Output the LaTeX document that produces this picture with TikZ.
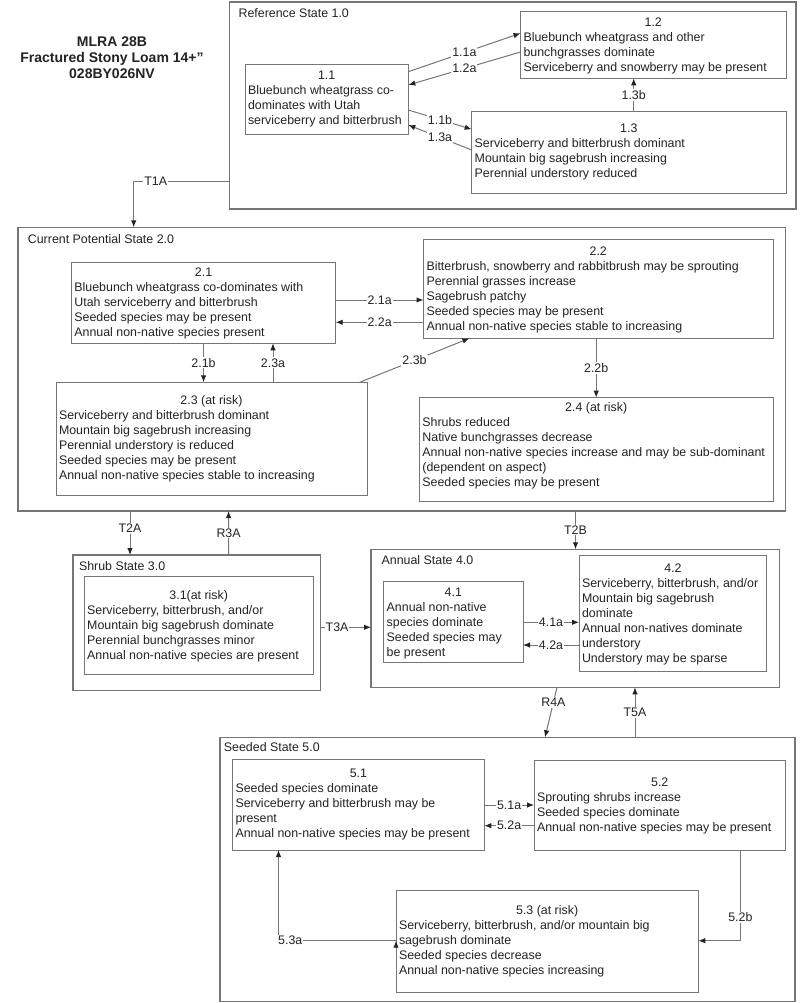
\documentclass[tikz,border=0pt]{standalone}
\usepackage{fontspec}
\setmainfont{Liberation Sans}
\usetikzlibrary{arrows.meta}

\definecolor{edgegray}{RGB}{118,118,118}
\definecolor{inkgray}{RGB}{35,35,35}

% text of a state box: width, height, x offset, y offset, title
\newcommand{\sttext}[5]{\parbox[t][#2pt][t]{#1pt}{\vspace*{#4pt}\hspace*{#3pt}\strut #5}}
% text of a phase box: width, height, y offset, number, lines
\newcommand{\phtext}[5]{\parbox[t][#2pt][t]{#1pt}{\vspace*{#3pt}{\centering\strut #4\par}\raggedright #5\par}}

\begin{document}
\begin{tikzpicture}[x=1pt, y=-1pt,
    font=\fontsize{12.4}{15}\selectfont, text=inkgray,
    statebox/.style={draw=edgegray, line width=1.3pt, inner sep=0pt, outer sep=0pt, anchor=north west},
    phasebox/.style={draw=edgegray, line width=1pt, inner xsep=3pt, inner ysep=0pt, outer sep=0pt, anchor=north west},
    conn/.style={draw=edgegray, line width=1pt, -{Latex[length=7pt, width=5.5pt, color=inkgray]}},
    lbl/.style={fill=white, inner sep=1pt},
    elbow/.style={to path={-| (\tikztotarget) \tikztonodes}},
    elbowv/.style={to path={|- (\tikztotarget) \tikztonodes}}]

    \fill[white] (0,0) rectangle (800,1003);
    \useasboundingbox (0,0) rectangle (800,1003);

    \node[font=\fontsize{14}{16}\selectfont\bfseries, align=center] (mlra) at (112,57.5) {MLRA 28B\\Fractured Stony Loam 14+\char34\\028BY026NV};

    % states
    \node[statebox] (s1) at (229.6,2) {\sttext{566.4}{207}{9}{5.3}{Reference State 1.0}};
    \node[statebox] (s2) at (17.9,227.3) {\sttext{767.8}{283.7}{10}{5.7}{Current Potential State 2.0}};
    \node[statebox] (s3) at (73,555) {\sttext{247.4}{135.7}{6}{5}{Shrub State 3.0}};
    \node[statebox] (s4) at (371,549.3) {\sttext{408.6}{138}{10.6}{4.7}{Annual State 4.0}};
    \node[statebox] (s5) at (219.9,737.3) {\sttext{575.1}{264.4}{4}{4}{Seeded State 5.0}};

    % phases
    \node[phasebox] (p11) at (245,64.3) {\phtext{157.3}{70.7}{4.7}{1.1}{Bluebunch wheatgrass co-\\dominates with Utah\\serviceberry and bitterbrush}};
    \node[phasebox] (p12) at (520.5,11.7) {\phtext{259.5}{66.6}{4}{1.2}{Bluebunch wheatgrass and other\\bunchgrasses dominate\\Serviceberry and snowberry may be present}};
    \node[phasebox] (p13) at (471.7,111.7) {\phtext{308.3}{81.6}{10.6}{1.3}{Serviceberry and bitterbrush dominant\\Mountain big sagebrush increasing\\Perennial understory reduced}};

    \node[phasebox] (p21) at (71.4,262.7) {\phtext{258.3}{80.6}{3}{2.1}{Bluebunch wheatgrass co-dominates with\\Utah serviceberry and bitterbrush\\Seeded species may be present\\Annual non-native species present}};
    \node[phasebox] (p22) at (423.5,239.3) {\phtext{343.5}{99}{5.4}{2.2}{Bitterbrush, snowberry and rabbitbrush may be sprouting\\Perennial grasses increase\\Sagebrush patchy\\Seeded species may be present\\Annual non-native species stable to increasing}};
    \node[phasebox] (p23) at (56,382.3) {\phtext{305}{113.4}{11.7}{2.3 (at risk)}{Serviceberry and bitterbrush dominant\\Mountain big sagebrush increasing\\Perennial understory is reduced\\Seeded species may be present\\Annual non-native species stable to increasing}};
    \node[phasebox] (p24) at (419.4,397.7) {\phtext{347.6}{104}{3.6}{2.4 (at risk)}{Shrubs reduced\\Native bunchgrasses decrease\\Annual non-native species increase and may be sub-dominant\\(dependent on aspect)\\Seeded species may be present}};

    \node[phasebox] (p31) at (84.2,576.7) {\phtext{223.1}{97.6}{12.3}{3.1(at risk)}{Serviceberry, bitterbrush, and/or\\Mountain big sagebrush dominate\\Perennial bunchgrasses minor\\Annual non-native species are present}};

    \node[phasebox] (p41) at (383.7,581.7) {\phtext{133.3}{80.6}{4}{4.1}{Annual non-native\\species dominate\\Seeded species may\\be present}};
    \node[phasebox] (p42) at (579,555) {\phtext{181.8}{116.7}{7.3}{4.2}{Serviceberry, bitterbrush, and/or\\Mountain big sagebrush\\dominate\\Annual non-natives dominate\\understory\\Understory may be sparse}};

    \node[phasebox] (p51) at (232.5,759.3) {\phtext{245.8}{90.7}{8}{5.1}{Seeded species dominate\\Serviceberry and bitterbrush may be\\present\\Annual non-native species may be present}};
    \node[phasebox] (p52) at (534,760) {\phtext{245.5}{90}{15.7}{5.2}{Sprouting shrubs increase\\Seeded species dominate\\Annual non-native species may be present}};
    \node[phasebox] (p53) at (396,890) {\phtext{296.3}{102.3}{14}{5.3 (at risk)}{Serviceberry, bitterbrush, and/or mountain big\\sagebrush dominate\\Seeded species decrease\\Annual non-native species increasing}};

    % pathways
    \draw[conn]
    ([yshift=-7.4pt]p11.north east) edge node[lbl]{1.1a} ([yshift=-21.6pt]p12.north west)
    ([yshift=-40.3pt]p12.north west) edge node[lbl]{1.2a} ([yshift=-20.7pt]p11.north east)
    ([yshift=-45.7pt]p11.north east) edge node[lbl]{1.1b} ([yshift=-17.6pt]p13.north west)
    ([yshift=-38.3pt]p13.north west) edge node[lbl]{1.3a} ([yshift=-60.7pt]p11.north east)
    ([xshift=162pt]p13.north west) edge node[lbl]{1.3b} ([xshift=113.2pt]p12.south west)
    ([yshift=27.3pt]s1.south west) edge[elbow] node[lbl, pos=0.385]{T1A} ([xshift=115.8pt]s2.north west)
    ([yshift=-37.3pt]p21.north east) edge node[lbl]{2.1a} ([yshift=-60.7pt]p22.north west)
    ([yshift=-83pt]p22.north west) edge node[lbl]{2.2a} ([yshift=-59.6pt]p21.north east)
    (p21.south) edge node[lbl]{2.1b} (p21.south |- p23.north)
    ([xshift=217pt]p23.north west) edge node[lbl]{2.3a} ([xshift=201.6pt]p21.south west)
    ([xshift=303.7pt]p23.north west) edge node[lbl]{2.3b} ([xshift=45.9pt]p22.south west)
    (p24.north |- p22.south) edge node[lbl]{2.2b} (p24.north)
    ([xshift=112.1pt]s2.south west) edge node[lbl, pos=0.4]{T2A} ([xshift=57pt]s3.north west)
    ([xshift=155.6pt]s3.north west) edge node[lbl]{R3A} ([xshift=210.7pt]s2.south west)
    ([xshift=557.6pt]s2.south west) edge node[lbl]{T2B} ([xshift=204.5pt]s4.north west)
    ([yshift=-72.3pt]s3.north east) edge node[lbl, pos=0.33]{T3A} ([yshift=-78pt]s4.north west)
    ([yshift=-40.6pt]p41.north east) edge node[lbl]{4.1a} ([yshift=-67.3pt]p42.north west)
    ([yshift=-90pt]p42.north west) edge node[lbl]{4.2a} ([yshift=-63.3pt]p41.north east)
    ([xshift=186pt]s4.south west) edge node[lbl, pos=0.3]{R4A} ([xshift=325.1pt]s5.north west)
    ([xshift=415.1pt]s5.north west) edge node[lbl]{T5A} ([xshift=264pt]s4.south west)
    ([yshift=-45.7pt]p51.north east) edge node[lbl]{5.1a} ([yshift=-45pt]p52.north west)
    ([yshift=-65.7pt]p52.north west) edge node[lbl]{5.2a} ([yshift=-66.4pt]p51.north east)
    ([xshift=206.4pt]p52.south west) edge[elbowv] node[lbl, pos=0.37]{5.2b} ([yshift=-50.7pt]p53.north east)
    ([yshift=-50.7pt]p53.north west) edge[elbow] node[lbl, pos=0.45]{5.3a} ([xshift=46pt]p51.south west);
\end{tikzpicture}
\end{document}
